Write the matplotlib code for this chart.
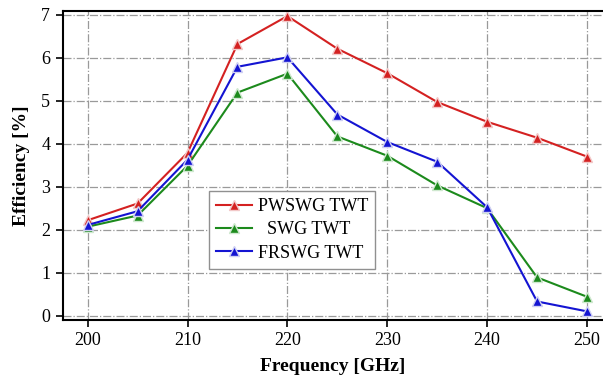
import matplotlib.pyplot as plt
import numpy as np

# Data
freq = [200, 205, 210, 215, 220, 225, 230, 235, 240, 245, 250]
eff_pwswg = [2.22, 2.61, 3.79, 6.32, 6.97, 6.21, 5.64, 4.97, 4.51, 4.14, 3.70]
eff_swg = [2.07, 2.33, 3.49, 5.19, 5.63, 4.17, 3.72, 3.03, 2.50, 0.89, 0.44]
eff_frswg = [2.11, 2.43, 3.63, 5.79, 6.01, 4.68, 4.04, 3.58, 2.52, 0.33, 0.10]

labels = ["PWSWG TWT", "  SWG TWT", "FRSWG TWT"]
colors = ["#d42121", "#1c8a1c", "#1414d2"]
edge_colors = ["#f2c8c8", "#cfe8cf", "#cfd0f2"]

plt.rcParams['font.family'] = ['Liberation Serif', 'DejaVu Serif']

fig = plt.figure(figsize=(6.03, 3.76), dpi=100)
ax = fig.add_axes([0.104, 0.149, 0.896, 0.822])

for y, lab, c, ec in zip([eff_pwswg, eff_swg, eff_frswg], labels, colors, edge_colors):
    ax.plot(freq, y, "-^", color=c, lw=1.5, ms=6.5, mfc=c, mec=ec, mew=1.0, label=lab)

ax.set_xlim(197.5, 251.6)
ax.set_ylim(-0.1, 7.09)
ax.set_xticks(np.arange(200, 251, 10))
ax.set_yticks(np.arange(0, 8, 1))
ax.grid(True, color="#9a9a9a", ls="-.", lw=0.9)
ax.set_axisbelow(True)

for s in ["left", "bottom", "top"]:
    ax.spines[s].set_linewidth(1.5)
ax.spines["right"].set_visible(False)
ax.tick_params(direction="out", length=5, width=1.2, labelsize=13, pad=4)

ax.set_xlabel("Frequency [GHz]", fontsize=14, fontweight="bold", labelpad=6)
ax.set_ylabel("Efficiency [%]", fontsize=14, fontweight="bold", labelpad=8)

leg = ax.legend(loc="upper left", bbox_to_anchor=(0.271, 0.418), borderaxespad=0,
                fontsize=13, frameon=True, fancybox=False, edgecolor="#909090",
                framealpha=1, handlelength=2.0, handletextpad=0.3, borderpad=0.4,
                labelspacing=0.35)
leg.get_frame().set_linewidth(1.0)

fig.savefig("out.png", dpi=100)
